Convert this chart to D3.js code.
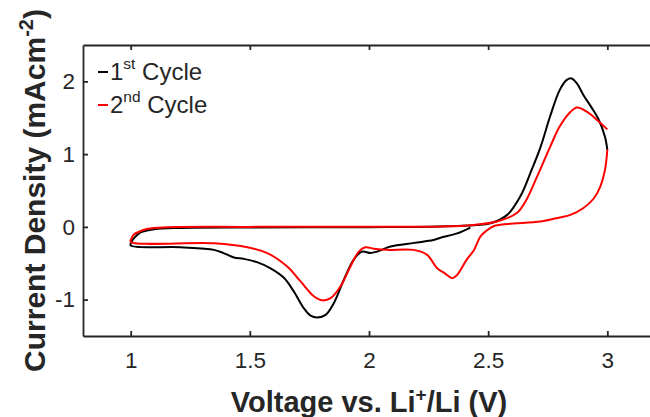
<!DOCTYPE html>
<html>
<head>
<meta charset="utf-8">
<script src="https://cdn.jsdelivr.net/npm/d3@7"></script>
<style>
body { margin: 0; background: #fff; }
text { font-family: "Liberation Sans", Arial, Helvetica, sans-serif; fill: #262626; }
.frame path, .frame line { stroke: #262626; stroke-width: 1.8; }
.cycle1 { fill: none; stroke: #000000; stroke-width: 2; }
.cycle2 { fill: none; stroke: #ff0000; stroke-width: 2; }
</style>
</head>
<body>
<svg id="cv" width="650" height="417"></svg>
<script>

// 1st cycle, in sweep order (cathodic from OCV down to 1 V, then anodic up to 3 V)
var cycle1_v = [2.425, 2.37, 2.30, 2.27, 2.19, 2.09, 2.034, 2.006, 1.97, 1.936, 1.894, 1.852, 1.818, 1.783, 1.755, 1.727,
                1.685, 1.643, 1.587, 1.53, 1.475, 1.433, 1.39, 1.35, 1.21, 1.0,
                1.003, 1.014, 1.042, 1.098, 1.21, 1.5, 2.0, 2.3, 2.45, 2.51, 2.58, 2.635, 2.677, 2.72, 2.76, 2.80,
                2.83, 2.85, 2.873, 2.90, 2.93, 2.963, 2.99, 3.0];
var cycle1_i = [-0.01, -0.09, -0.15, -0.18, -0.22, -0.27, -0.34, -0.36, -0.34, -0.45, -0.73, -1.05, -1.21, -1.245, -1.22, -1.12,
                -0.89, -0.70, -0.57, -0.485, -0.44, -0.42, -0.36, -0.316, -0.28, -0.255,
                -0.21, -0.155, -0.077, -0.032, -0.014, -0.008, -0.004, 0.005, 0.025, 0.05, 0.165, 0.42, 0.74, 1.10, 1.52, 1.88,
                2.02, 2.04, 1.97, 1.81, 1.66, 1.48, 1.24, 1.06];

// 2nd cycle, starting at 3 V
var cycle2_v = [3.0, 2.99, 2.97, 2.943, 2.90, 2.845, 2.80, 2.72, 2.58, 2.52, 2.49, 2.468, 2.44, 2.41, 2.37, 2.35, 2.314, 2.286,
                2.244, 2.188, 2.076, 2.02, 1.985, 1.957, 1.922, 1.88, 1.839, 1.804, 1.77, 1.713, 1.657, 1.573, 1.49, 1.35, 1.0,
                1.003, 1.012, 1.028, 1.07, 1.154, 1.5, 2.0, 2.3, 2.44, 2.537, 2.62, 2.66, 2.705, 2.76, 2.80, 2.845, 2.873,
                2.915, 2.957, 3.0];
var cycle2_i = [1.06, 0.78, 0.55, 0.39, 0.26, 0.165, 0.13, 0.073, 0.04, 0.005, -0.06, -0.13, -0.32, -0.45, -0.66, -0.705, -0.63, -0.57,
                -0.385, -0.316, -0.316, -0.30, -0.28, -0.34, -0.545, -0.82, -0.98, -1.01, -0.957, -0.75, -0.545, -0.36, -0.28, -0.225, -0.205,
                -0.16, -0.11, -0.077, -0.027, -0.005, 0, 0.002, 0.004, 0.027, 0.073, 0.19, 0.37, 0.69, 1.10, 1.38, 1.58, 1.64,
                1.58, 1.47, 1.34];

var x_domain = [0.8, 3.2];
var y_domain = [-1.5, 2.5];
var x_ticks = [1, 1.5, 2, 2.5, 3];
var y_ticks = [-1, 0, 1, 2];
var legend_labels = [["1", "st", " Cycle"], ["2", "nd", " Cycle"]];
var legend_classes = ["cycle1", "cycle2"];


function draw_cv( svg_id ){

	var svg = d3.select(svg_id);
	var margin = {left: 83, right: -5, top: 45, bottom: 81},
		width  = +svg.attr("width")  - margin.left - margin.right,
		height = +svg.attr("height") - margin.top  - margin.bottom;

	var xAxis = d3.scaleLinear().domain( x_domain ).range([ 0, width ]);
	var yAxis = d3.scaleLinear().domain( y_domain ).range([ height, 0 ]);
	var fmt = function(d){ return String(d); };   // plain hyphen, no trailing zeros

	var g = svg.append("g")
		.attr("transform", "translate(" + margin.left + "," + margin.top + ")");

	// box with inward ticks on all four sides
	g.append("g").attr("class", "frame")
		.attr("transform", "translate(0," + height + ")")
		.call(d3.axisBottom(xAxis).tickValues(x_ticks).tickFormat(fmt).tickSizeInner(-5).tickSizeOuter(0).tickPadding(16))
		.call(function(a){ a.selectAll("text").attr("font-size", 22.5).attr("font-family", null).attr("fill", "#262626"); });
	g.append("g").attr("class", "frame")
		.call(d3.axisTop(xAxis).tickValues(x_ticks).tickSizeInner(-5).tickSizeOuter(0).tickFormat(""));
	g.append("g").attr("class", "frame")
		.call(d3.axisLeft(yAxis).tickValues(y_ticks).tickFormat(fmt).tickSizeInner(-5).tickSizeOuter(0).tickPadding(8))
		.call(function(a){ a.selectAll("text").attr("font-size", 22.5).attr("font-family", null).attr("fill", "#262626"); });
	g.append("g").attr("class", "frame")
		.attr("transform", "translate(" + width + ",0)")
		.call(d3.axisRight(yAxis).tickValues(y_ticks).tickSizeInner(-5).tickSizeOuter(0).tickFormat(""));

	var line = d3.line()
		.x(function(d){ return xAxis(d[0]); })
		.y(function(d){ return yAxis(d[1]); })
		.curve(d3.curveCatmullRom.alpha(0.5));

	g.append("path").datum( d3.zip(cycle1_v, cycle1_i) ).attr("class", "cycle1").attr("d", line);
	g.append("path").datum( d3.zip(cycle2_v, cycle2_i) ).attr("class", "cycle2").attr("d", line);

	// legend
	legend_labels.forEach(function(lab, k){
		var ly = 80 + k * 33;
		svg.append("line").attr("class", legend_classes[k])
			.attr("x1", 98).attr("x2", 108).attr("y1", ly - 8).attr("y2", ly - 8);
		var t = svg.append("text").attr("x", 110).attr("y", ly).attr("font-size", 24);
		t.append("tspan").text(lab[0]);
		t.append("tspan").attr("font-size", 15.5).attr("dy", -11).text(lab[1]);
		t.append("tspan").attr("dy", 11).text(lab[2]);
	});

	// axis labels
	var xl = svg.append("text")
		.attr("x", margin.left + width / 2).attr("y", 412)
		.attr("text-anchor", "middle").attr("font-size", 29).attr("font-weight", "bold");
	xl.append("tspan").text("Voltage vs. Li");
	xl.append("tspan").attr("font-size", 19).attr("dy", -11).text("+");
	xl.append("tspan").attr("dy", 11).text("/Li (V)");

	var yl = svg.append("text")
		.attr("transform", "translate(45," + (margin.top + height / 2) + ") rotate(-90)")
		.attr("text-anchor", "middle").attr("font-size", 30).attr("font-weight", "bold");
	yl.append("tspan").text("Current Density (mAcm");
	yl.append("tspan").attr("font-size", 20).attr("dy", -12).text("-2");
	yl.append("tspan").attr("dy", 12).text(")");
}

draw_cv("#cv");
</script>
</body>
</html>
